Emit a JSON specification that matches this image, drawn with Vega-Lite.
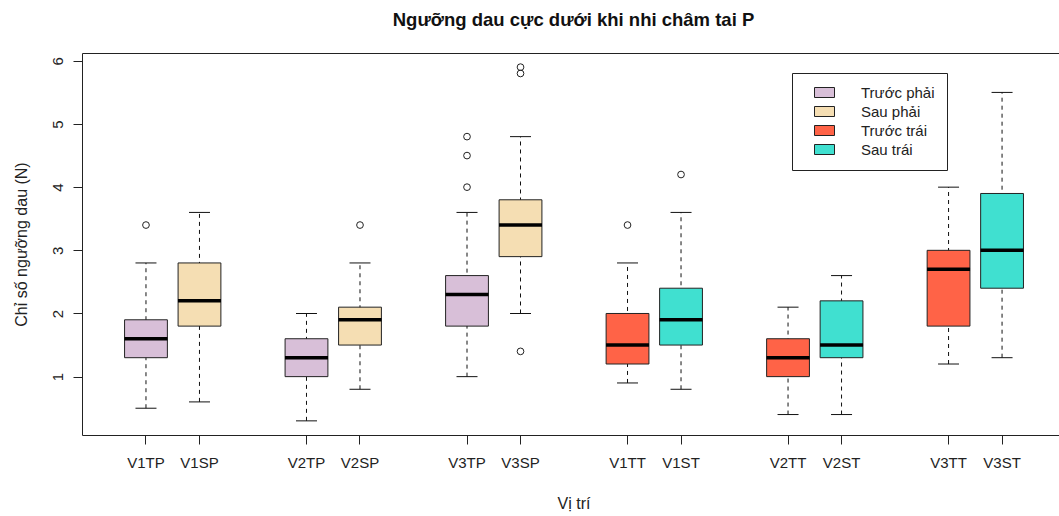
{
  "$schema": "https://vega.github.io/schema/vega-lite/v6.json",
  "width": 977,
  "height": 382,
  "autosize": {"type": "none"},
  "padding": {"left": 82, "top": 53, "right": 0, "bottom": 81},
  "background": "white",
  "config": {
    "view": {"stroke": null},
    "font": "Liberation Sans",
    "axis": {"grid": false, "domainColor": "#222", "tickColor": "#222", "labelColor": "#222", "titleColor": "#222", "labelFont": "Liberation Sans", "titleFont": "Liberation Sans"}
  },
  "title": {
    "text": "Ngưỡng dau cực dưới khi nhi châm tai P",
    "font": "Liberation Sans",
    "fontSize": 18.5,
    "fontWeight": "bold",
    "color": "#111",
    "anchor": "middle",
    "frame": "group",
    "offset": 24,
    "dx": 3
  },
  "datasets": {
    "boxes": [
      {"name": "V1TP", "group": "Trước phải", "lo": 0.5, "q1": 1.3, "med": 1.6, "q3": 1.9, "hi": 2.8},
      {"name": "V1SP", "group": "Sau phải", "lo": 0.6, "q1": 1.8, "med": 2.2, "q3": 2.8, "hi": 3.6},
      {"name": "V2TP", "group": "Trước phải", "lo": 0.3, "q1": 1.0, "med": 1.3, "q3": 1.6, "hi": 2.0},
      {"name": "V2SP", "group": "Sau phải", "lo": 0.8, "q1": 1.5, "med": 1.9, "q3": 2.1, "hi": 2.8},
      {"name": "V3TP", "group": "Trước phải", "lo": 1.0, "q1": 1.8, "med": 2.3, "q3": 2.6, "hi": 3.6},
      {"name": "V3SP", "group": "Sau phải", "lo": 2.0, "q1": 2.9, "med": 3.4, "q3": 3.8, "hi": 4.8},
      {"name": "V1TT", "group": "Trước trái", "lo": 0.9, "q1": 1.2, "med": 1.5, "q3": 2.0, "hi": 2.8},
      {"name": "V1ST", "group": "Sau trái", "lo": 0.8, "q1": 1.5, "med": 1.9, "q3": 2.4, "hi": 3.6},
      {"name": "V2TT", "group": "Trước trái", "lo": 0.4, "q1": 1.0, "med": 1.3, "q3": 1.6, "hi": 2.1},
      {"name": "V2ST", "group": "Sau trái", "lo": 0.4, "q1": 1.3, "med": 1.5, "q3": 2.2, "hi": 2.6},
      {"name": "V3TT", "group": "Trước trái", "lo": 1.2, "q1": 1.8, "med": 2.7, "q3": 3.0, "hi": 4.0},
      {"name": "V3ST", "group": "Sau trái", "lo": 1.3, "q1": 2.4, "med": 3.0, "q3": 3.9, "hi": 5.5}
    ],
    "outliers": [
      {"name": "V1TP", "value": 3.4},
      {"name": "V2SP", "value": 3.4},
      {"name": "V3TP", "value": 4.0},
      {"name": "V3TP", "value": 4.5},
      {"name": "V3TP", "value": 4.8},
      {"name": "V3SP", "value": 5.8},
      {"name": "V3SP", "value": 5.9},
      {"name": "V3SP", "value": 1.4},
      {"name": "V1TT", "value": 3.4},
      {"name": "V1ST", "value": 4.2}
    ]
  },
  "layer": [
    {
      "data": {"name": "boxes"},
      "mark": {"type": "rule", "color": "#111", "strokeDash": [4, 4], "strokeWidth": 1},
      "encoding": {
        "x": {"field": "name", "type": "nominal", "sort": null,
          "scale": {"domain": ["V1TP","V1SP","g1","V2TP","V2SP","g2","V3TP","V3SP","g3","V1TT","V1ST","g4","V2TT","V2ST","g5","V3TT","V3ST"], "paddingInner": 0.2, "paddingOuter": 0.73, "align": 0.545},
          "axis": {"orient": "bottom", "values": ["V1TP","V1SP","V2TP","V2SP","V3TP","V3SP","V1TT","V1ST","V2TT","V2ST","V3TT","V3ST"], "labelAngle": 0, "tickSize": 9, "labelPadding": 11, "labelFontSize": 15, "title": "Vị trí", "titleFontSize": 16, "titleFontWeight": "normal", "titlePadding": 25, "titleX": 491.5}
        },
        "y": {"field": "lo", "type": "quantitative",
          "scale": {"domain": [0.076, 6.124], "nice": false, "zero": false},
          "axis": {"values": [1,2,3,4,5,6], "tickSize": 9, "labelAngle": -90, "labelAlign": "center", "labelBaseline": "bottom", "labelPadding": 8, "labelFontSize": 15, "title": "Chỉ số ngưỡng dau (N)", "titleFontSize": 16, "titleFontWeight": "normal", "titlePadding": 21}
        },
        "y2": {"field": "hi"}
      }
    },
    {
      "data": {"name": "boxes"},
      "mark": {"type": "tick", "orient": "horizontal", "color": "#111", "size": 21, "thickness": 1, "opacity": 1},
      "encoding": {
        "x": {"field": "name", "type": "nominal", "sort": null,
          "scale": {"domain": ["V1TP","V1SP","g1","V2TP","V2SP","g2","V3TP","V3SP","g3","V1TT","V1ST","g4","V2TT","V2ST","g5","V3TT","V3ST"], "paddingInner": 0.2, "paddingOuter": 0.73, "align": 0.545},
          "axis": null},
        "y": {"field": "lo", "type": "quantitative", "scale": {"domain": [0.076, 6.124], "nice": false, "zero": false},
          "axis": {"values": [1,2,3,4,5,6], "tickSize": 9, "labelAngle": -90, "labelAlign": "center", "labelBaseline": "bottom", "labelPadding": 8, "labelFontSize": 15, "title": "Chỉ số ngưỡng dau (N)", "titleFontSize": 16, "titleFontWeight": "normal", "titlePadding": 21}}
      }
    },
    {
      "data": {"name": "boxes"},
      "mark": {"type": "tick", "orient": "horizontal", "color": "#111", "size": 21, "thickness": 1, "opacity": 1},
      "encoding": {
        "x": {"field": "name", "type": "nominal", "sort": null,
          "scale": {"domain": ["V1TP","V1SP","g1","V2TP","V2SP","g2","V3TP","V3SP","g3","V1TT","V1ST","g4","V2TT","V2ST","g5","V3TT","V3ST"], "paddingInner": 0.2, "paddingOuter": 0.73, "align": 0.545},
          "axis": null},
        "y": {"field": "hi", "type": "quantitative", "scale": {"domain": [0.076, 6.124], "nice": false, "zero": false},
          "axis": {"values": [1,2,3,4,5,6], "tickSize": 9, "labelAngle": -90, "labelAlign": "center", "labelBaseline": "bottom", "labelPadding": 8, "labelFontSize": 15, "title": "Chỉ số ngưỡng dau (N)", "titleFontSize": 16, "titleFontWeight": "normal", "titlePadding": 21}}
      }
    },
    {
      "data": {"name": "boxes"},
      "mark": {"type": "bar", "stroke": "#222", "strokeWidth": 1, "opacity": 1},
      "encoding": {
        "x": {"field": "name", "type": "nominal", "sort": null,
          "scale": {"domain": ["V1TP","V1SP","g1","V2TP","V2SP","g2","V3TP","V3SP","g3","V1TT","V1ST","g4","V2TT","V2ST","g5","V3TT","V3ST"], "paddingInner": 0.2, "paddingOuter": 0.73, "align": 0.545},
          "axis": {"orient": "top", "labels": false, "ticks": false, "title": null, "domain": true}},
        "y": {"field": "q1", "type": "quantitative", "scale": {"domain": [0.076, 6.124], "nice": false, "zero": false},
          "axis": {"values": [1,2,3,4,5,6], "tickSize": 9, "labelAngle": -90, "labelAlign": "center", "labelBaseline": "bottom", "labelPadding": 8, "labelFontSize": 15, "title": "Chỉ số ngưỡng dau (N)", "titleFontSize": 16, "titleFontWeight": "normal", "titlePadding": 21}},
        "y2": {"field": "q3"},
        "color": {"field": "group", "type": "nominal",
          "scale": {"domain": ["Trước phải", "Sau phải", "Trước trái", "Sau trái"], "range": ["#D8BFD8", "#F5DEB3", "#FF6347", "#40E0D0"]},
          "legend": {"title": null, "orient": "none", "legendX": 710, "legendY": 20, "strokeColor": "#222", "fillColor": "white", "padding": 12,
            "symbolType": "M-2,-1H2V1H-2Z", "symbolSize": 100, "symbolStrokeColor": "#222", "symbolStrokeWidth": 1, "symbolOpacity": 1,
            "symbolOffset": 13, "labelOffset": 29, "labelFontSize": 15, "labelColor": "#222", "labelFont": "Liberation Sans", "rowPadding": 3, "labelLimit": 400,
            "labelExpr": "datum.label + '\u00a0\u00a0\u00a0\u00a0\u00a0\u00a0\u00a0\u00a0\u00a0\u00a0\u00a0\u00a0\u00a0\u00a0\u00a0\u00a0\u00a0\u00a0\u00a0\u00a0\u00a0\u00a0'"}
        }
      }
    },
    {
      "data": {"name": "boxes"},
      "mark": {"type": "tick", "orient": "horizontal", "color": "#000", "size": 43, "thickness": 3.5, "opacity": 1},
      "encoding": {
        "x": {"field": "name", "type": "nominal", "sort": null,
          "scale": {"domain": ["V1TP","V1SP","g1","V2TP","V2SP","g2","V3TP","V3SP","g3","V1TT","V1ST","g4","V2TT","V2ST","g5","V3TT","V3ST"], "paddingInner": 0.2, "paddingOuter": 0.73, "align": 0.545},
          "axis": null},
        "y": {"field": "med", "type": "quantitative", "scale": {"domain": [0.076, 6.124], "nice": false, "zero": false},
          "axis": {"values": [1,2,3,4,5,6], "tickSize": 9, "labelAngle": -90, "labelAlign": "center", "labelBaseline": "bottom", "labelPadding": 8, "labelFontSize": 15, "title": "Chỉ số ngưỡng dau (N)", "titleFontSize": 16, "titleFontWeight": "normal", "titlePadding": 21}}
      }
    },
    {
      "data": {"name": "outliers"},
      "mark": {"type": "point", "shape": "circle", "filled": false, "stroke": "#222", "strokeWidth": 1, "size": 45, "opacity": 1},
      "encoding": {
        "x": {"field": "name", "type": "nominal", "sort": null,
          "scale": {"domain": ["V1TP","V1SP","g1","V2TP","V2SP","g2","V3TP","V3SP","g3","V1TT","V1ST","g4","V2TT","V2ST","g5","V3TT","V3ST"], "paddingInner": 0.2, "paddingOuter": 0.73, "align": 0.545},
          "axis": null},
        "y": {"field": "value", "type": "quantitative", "scale": {"domain": [0.076, 6.124], "nice": false, "zero": false},
          "axis": {"values": [1,2,3,4,5,6], "tickSize": 9, "labelAngle": -90, "labelAlign": "center", "labelBaseline": "bottom", "labelPadding": 8, "labelFontSize": 15, "title": "Chỉ số ngưỡng dau (N)", "titleFontSize": 16, "titleFontWeight": "normal", "titlePadding": 21}}
      }
    }
  ],
  "resolve": {"axis": {"x": "independent"}}
}
